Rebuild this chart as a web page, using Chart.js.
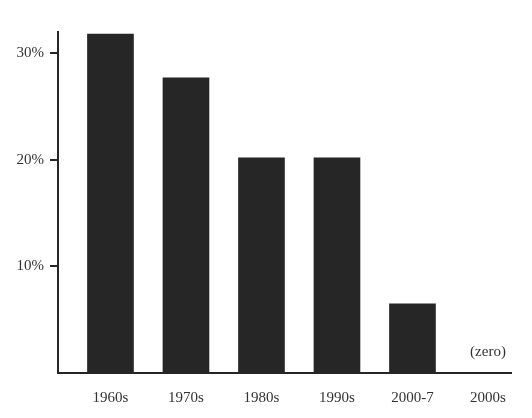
<!DOCTYPE html>
<html>
<head>
<meta charset="utf-8">
<script src="https://cdn.jsdelivr.net/npm/chart.js@4"></script>
<style>
  html, body { margin: 0; padding: 0; background: #fff; }
  canvas { display: block; }
</style>
</head>
<body>
<canvas id="decadeChart" width="532" height="418"></canvas>
<script>
// Share by period
const periods = ["1960s", "1970s", "1980s", "1990s", "2000-7", "2000s"];
const shares = [31.8, 27.7, 20.2, 20.2, 6.5, 0];
const yTicks = [10, 20, 30];
const noteText = "(zero)";
const noteIndex = 5;
const noteLevel = 2;

const ink = "#262626";
const labelFont = { family: "'Liberation Serif', 'Times New Roman', serif", size: 15 };

// writes the "(zero)" note above the last, empty bar
const zeroNote = {
  id: "zeroNote",
  afterDatasetsDraw(chart) {
    const ctx = chart.ctx;
    const x = chart.scales.x.getPixelForValue(noteIndex);
    const y = chart.scales.y.getPixelForValue(noteLevel);
    ctx.save();
    ctx.font = "15px " + labelFont.family;
    ctx.fillStyle = "#333";
    ctx.textAlign = "center";
    ctx.textBaseline = "middle";
    ctx.fillText(noteText, x, y);
    ctx.restore();
  },
};

function renderDecadeChart() {
  const ctx = document.getElementById("decadeChart").getContext("2d");
  new Chart(ctx, {
    type: "bar",
    data: {
      datasets: [
        {
          data: shares.map((v, i) => ({ x: i, y: v })),
          backgroundColor: ink,
          borderWidth: 0,
          barThickness: 46,
        },
      ],
    },
    options: {
      responsive: false,
      animation: false,
      layout: { padding: { top: 32, right: 21, left: 0, bottom: 0 } },
      plugins: { legend: { display: false }, tooltip: { enabled: false } },
      scales: {
        x: {
          type: "linear",
          offset: false,
          min: -0.695,
          max: 5.305,
          afterBuildTicks: (scale) => {
            scale.ticks = periods.map((_, i) => ({ value: i }));
          },
          afterFit: (scale) => {
            scale.height = 45;
          },
          grid: { display: false, drawTicks: false, offset: false },
          border: { display: true, color: ink, width: 2 },
          ticks: {
            color: "#333",
            font: labelFont,
            padding: 16,
            maxRotation: 0,
            autoSkip: false,
            callback: (v) => periods[v] || "",
          },
        },
        y: {
          min: 0,
          max: 32,
          afterBuildTicks: (scale) => {
            scale.ticks = yTicks.map((v) => ({ value: v }));
          },
          afterFit: (scale) => {
            scale.width = 58;
          },
          grid: {
            drawOnChartArea: false,
            drawTicks: true,
            tickLength: 8,
            color: ink,
            lineWidth: 2,
          },
          border: { display: true, color: ink, width: 2 },
          ticks: {
            color: "#333",
            font: labelFont,
            padding: 6,
            callback: (v) => v + "%",
          },
        },
      },
    },
    plugins: [zeroNote],
  });
}

document.addEventListener("DOMContentLoaded", () => {
  renderDecadeChart();
});
</script>
</body>
</html>
